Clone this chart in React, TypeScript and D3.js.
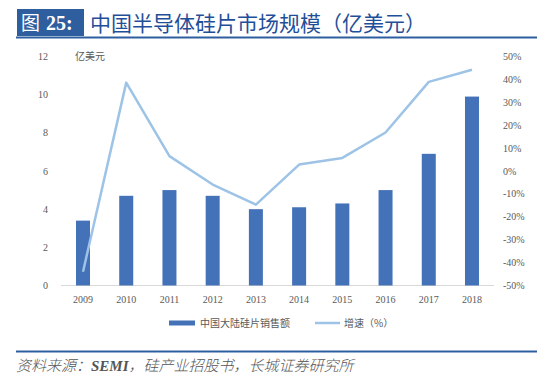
import React from "react";
import * as d3 from "d3";

const years = ["2009", "2010", "2011", "2012", "2013", "2014", "2015", "2016", "2017", "2018"];
const sales = [3.4, 4.7, 5.0, 4.7, 4.0, 4.1, 4.3, 5.0, 6.9, 9.9];
const growth = [-44, 38.6, 6.5, -5.9, -14.7, 2.8, 5.7, 16.8, 38.9, 44.2];
const leftTicks = [0, 2, 4, 6, 8, 10, 12];
const rightTicks = [-50, -40, -30, -20, -10, 0, 10, 20, 30, 40, 50];

const W = 558;
const H = 387;

export default function App() {
  const x = d3.scalePoint<string>().domain(years).range([61.4, 493.6]).padding(0.5);
  const yL = d3.scaleLinear().domain([0, 12]).range([285.5, 56.5]);
  const yR = d3.scaleLinear().domain([-50, 50]).range([285.5, 56.5]);
  const line = d3
    .line<number>()
    .x((_, i) => x(years[i]) as number)
    .y((d) => yR(d));
  const barW = 14;
  const tickFont = "'Liberation Serif', 'Times New Roman', serif";
  const cjk = "'Noto Sans CJK SC', sans-serif";

  return (
    <svg
      width={W}
      height={H}
      style={{ position: "absolute", left: 0, top: 0, background: "#fff" }}
    >
      {/* title */}
      <rect x={17} y={9} width={67} height={27} fill="#2F5E9F" />
      <text x={21} y={30} fill="#fff" fontFamily={cjk} fontSize={19}>
        图
      </text>
      <text x={46} y={30} fill="#fff" fontFamily={tickFont} fontWeight="bold" fontSize={20}>
        25:
      </text>
      <text x={90} y={31} fill="#1F4F99" fontFamily={cjk} fontSize={21}>
        中国半导体硅片市场规模（亿美元）
      </text>
      <line x1={16} x2={537} y1={37.5} y2={37.5} stroke="#2F5E9F" strokeWidth={2} />

      {/* unit */}
      <text x={75} y={60} fill="#595959" fontFamily={cjk} fontSize={10}>
        亿美元
      </text>

      {/* left axis */}
      {leftTicks.map((t) => (
        <text
          key={"l" + t}
          x={48}
          y={yL(t)}
          dy="0.35em"
          textAnchor="end"
          fill="#595959"
          fontFamily={tickFont}
          fontSize={10}
        >
          {t}
        </text>
      ))}

      {/* right axis */}
      {rightTicks.map((t) => (
        <text
          key={"r" + t}
          x={503}
          y={yR(t)}
          dy="0.35em"
          textAnchor="start"
          fill="#595959"
          fontFamily={tickFont}
          fontSize={10}
        >
          {t + "%"}
        </text>
      ))}

      {/* baseline */}
      <line x1={61} x2={494} y1={285.5} y2={285.5} stroke="#D9D9D9" strokeWidth={1} />

      {/* bars */}
      {sales.map((v, i) => (
        <rect
          key={"b" + i}
          x={(x(years[i]) as number) - barW / 2}
          y={yL(v)}
          width={barW}
          height={yL(0) - yL(v)}
          fill="#4472B8"
        />
      ))}

      {/* line */}
      <path d={line(growth) || ""} fill="none" stroke="#9DC3E6" strokeWidth={2.5} strokeLinejoin="round" />

      {/* x labels */}
      {years.map((yv) => (
        <text
          key={"x" + yv}
          x={x(yv) as number}
          y={299}
          dy="0.35em"
          textAnchor="middle"
          fill="#595959"
          fontFamily={tickFont}
          fontSize={10}
        >
          {yv}
        </text>
      ))}

      {/* legend */}
      <rect x={169} y={320.5} width={26} height={5} fill="#4472B8" />
      <text x={200} y={323} dy="0.35em" fill="#595959" fontFamily={cjk} fontSize={10}>
        中国大陆硅片销售额
      </text>
      <line x1={315} x2={340} y1={323} y2={323} stroke="#9DC3E6" strokeWidth={2.5} />
      <text x={344} y={323} dy="0.35em" fill="#595959" fontFamily={cjk} fontSize={10}>
        增速（%）
      </text>

      {/* footer */}
      <line x1={16} x2={537} y1={351.5} y2={351.5} stroke="#2F5E9F" strokeWidth={2} />
      <text x={16} y={371} fill="#555555" fontFamily={cjk} fontStyle="italic" fontWeight={300} fontSize={15}>
        资料来源：
        <tspan fontFamily={tickFont} fontWeight="bold">SEMI</tspan>
        ，硅产业招股书，长城证券研究所
      </text>
    </svg>
  );
}
